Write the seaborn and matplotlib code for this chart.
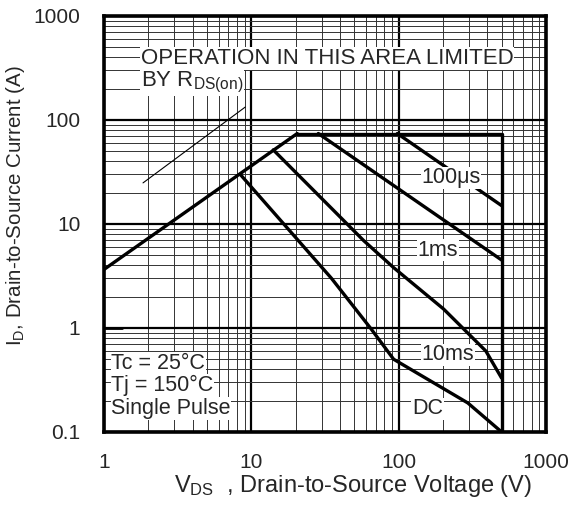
import numpy as np
import pandas as pd
import matplotlib
matplotlib.use("Agg")
import matplotlib.pyplot as plt
import seaborn as sns
from matplotlib.ticker import LogLocator, FixedLocator, FixedFormatter, NullFormatter

# safe operating area boundaries
rds_v = [1, 20.5]
rds_i = [3.65, 74]
limit_v = [20.5, 500, 500]
limit_i = [74, 74, 0.1]
us100_v = [98, 500]
us100_i = [74, 15]
ms1_v = [28.5, 500]
ms1_i = [74, 4.5]
ms10_v = [14.1, 58, 92.5, 202, 391, 500]
ms10_i = [51.5, 6.9, 3.8, 1.52, 0.6, 0.33]
dc_v = [8.4, 35, 65, 92.5, 295, 500]
dc_i = [30, 3.0, 0.98, 0.5, 0.19, 0.1]
stub_v = [1, 1.33]
stub_i = [1, 1]
pointer_v = [1.84, 9.1]
pointer_i = [24.8, 133]

x_ticks = [1, 10, 100, 1000]
x_labels = ["1", "10", "100", "1000"]
y_ticks = [0.1, 1, 10, 100, 1000]
y_labels = ["0.1", "1", "10", "100", "1000"]

sns.set_style("white")
plt.rcParams["font.family"] = ["Liberation Sans", "DejaVu Sans"]
plt.rcParams["mathtext.fontset"] = "custom"
plt.rcParams["mathtext.rm"] = "Liberation Sans"
plt.rcParams["mathtext.it"] = "Liberation Sans"

fig = plt.figure(figsize=(5.82, 5.13), dpi=100)
ax = fig.add_axes([0.1787, 0.158, 0.7593, 0.811])
ax.set_xscale("log")
ax.set_yscale("log")
ax.set_xlim(1, 1000)
ax.set_ylim(0.1, 1000)

ax.xaxis.set_minor_locator(LogLocator(base=10, subs=np.arange(2, 10)))
ax.yaxis.set_minor_locator(LogLocator(base=10, subs=np.arange(2, 10)))
ax.xaxis.set_minor_formatter(NullFormatter())
ax.yaxis.set_minor_formatter(NullFormatter())
ax.xaxis.set_major_locator(FixedLocator(x_ticks))
ax.xaxis.set_major_formatter(FixedFormatter(x_labels))
ax.yaxis.set_major_locator(FixedLocator(y_ticks))
ax.yaxis.set_major_formatter(FixedFormatter(y_labels))
ax.grid(which="major", color="black", lw=1.6, zorder=1)
ax.grid(which="minor", color="0.2", lw=0.7, zorder=1)
ax.tick_params(which="both", length=0, labelsize=15)
ax.tick_params(axis="y", pad=17)
ax.tick_params(axis="x", pad=15)
for s in ax.spines.values():
    s.set_visible(True)
    s.set_color("black")
    s.set_linewidth(2.6)

curves = [(rds_v, rds_i), (limit_v, limit_i), (us100_v, us100_i),
          (ms1_v, ms1_i), (ms10_v, ms10_i), (dc_v, dc_i)]
for v, i in curves:
    sns.lineplot(x=v, y=i, ax=ax, color="black", lw=2.4, sort=False,
                 estimator=None, zorder=3)
sns.lineplot(x=stub_v, y=stub_i, ax=ax, color="black", lw=2.0, sort=False,
             estimator=None, zorder=3)
sns.lineplot(x=pointer_v, y=pointer_i, ax=ax, color="black", lw=0.8, sort=False,
             estimator=None, zorder=3)

box = dict(facecolor="white", edgecolor="none", pad=0.5)
ax.text(1.78, 390, "OPERATION IN THIS AREA LIMITED", fontsize=16, va="center",
        ha="left", bbox=box, zorder=4)
ax.text(1.78, 230, r"BY R$_{\mathrm{DS(on)}}$", fontsize=16, va="center",
        ha="left", bbox=box, zorder=4)
ax.text(226, 27.7, "100μs", fontsize=15.5, va="center", ha="center", bbox=box, zorder=4)
ax.text(184, 5.6, "1ms", fontsize=15.5, va="center", ha="center", bbox=box, zorder=4)
ax.text(215, 0.55, "10ms", fontsize=15.5, va="center", ha="center", bbox=box, zorder=4)
ax.text(157, 0.167, "DC", fontsize=15.5, va="center", ha="center", bbox=box, zorder=4)
ax.text(1.12, 0.46, "Tc = 25°C", fontsize=15.5, va="center", ha="left", bbox=box, zorder=4)
ax.text(1.12, 0.28, "Tj = 150°C", fontsize=15.5, va="center", ha="left", bbox=box, zorder=4)
ax.text(1.12, 0.168, "Single Pulse", fontsize=15.5, va="center", ha="left", bbox=box, zorder=4)

ax.set_xlabel(r"V$_{\mathrm{DS}}$  , Drain-to-Source Voltage (V)", fontsize=17)
ax.set_ylabel(r"I$_{\mathrm{D}}$, Drain-to-Source Current (A)", fontsize=14.8)
ax.xaxis.set_label_coords(0.563, -0.098)
ax.yaxis.set_label_coords(-0.175, 0.545)

fig.savefig("out.png", dpi=100)
